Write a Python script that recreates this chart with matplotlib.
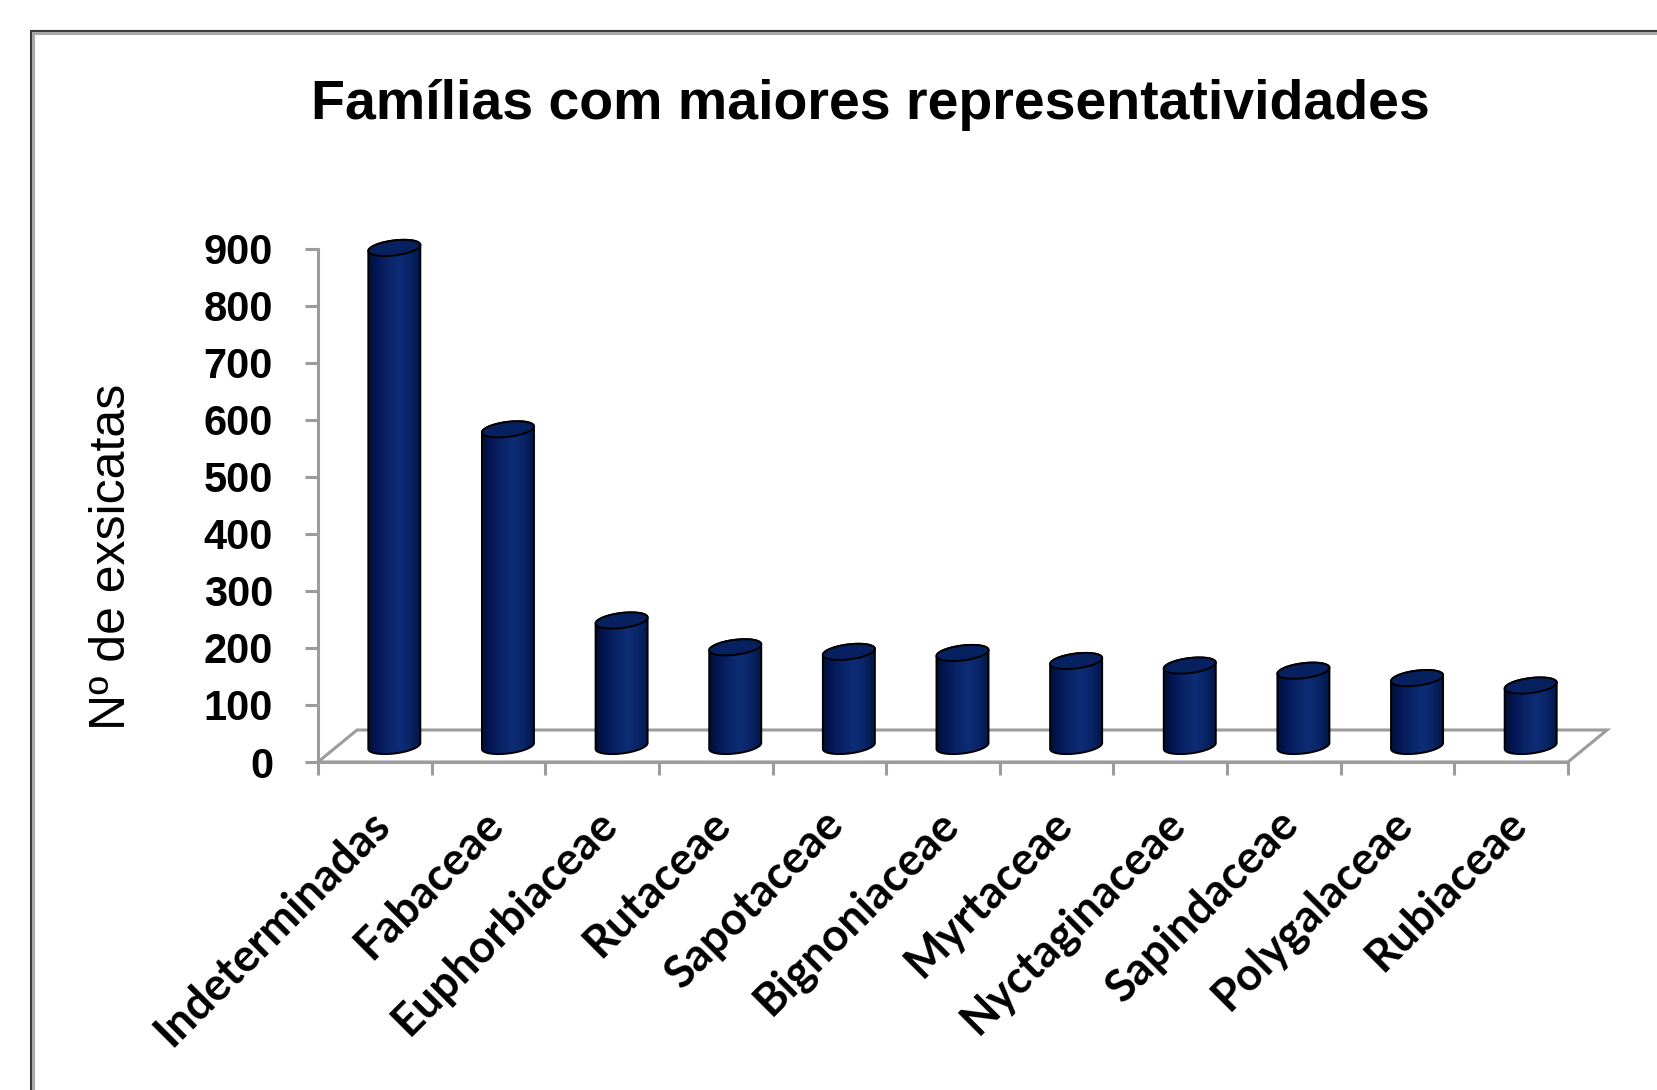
import numpy as np
import matplotlib
matplotlib.use("Agg")
import matplotlib.pyplot as plt
from matplotlib.patches import Polygon, Rectangle
from matplotlib.colors import LinearSegmentedColormap

# ── data ─────────────────────────────────────────────────────────────────────
familias = ["Indeterminadas", "Fabaceae", "Euphorbiaceae", "Rutaceae",
            "Sapotaceae", "Bignoniaceae", "Myrtaceae", "Nyctaginaceae",
            "Sapindaceae", "Polygalaceae", "Rubiaceae"]
exsicatas = [873, 555, 220, 173, 165, 163, 149, 141, 132, 119, 106]
yticks = [0, 100, 200, 300, 400, 500, 600, 700, 800, 900]

TITLE = "Famílias com maiores representatividades"
YLABEL = "Nº de exsicatas"

# ── layout (pixels of the 1657x1090 output) ──────────────────────────────────
W, H = 1657, 1090
X0, X1 = 318, 1568          # front floor edge, left / right
Y0, Y900 = 762, 248.5       # pixel rows of value 0 and 900
PX_CAT = (X1 - X0) / len(familias)
PX_VAL = (Y0 - Y900) / 900

DX = 39 / PX_CAT            # 3-D depth offset, category units
DY = 32 / PX_VAL            # 3-D depth offset, value units
YMAX = 1000
XMAX = len(familias) - 0.5 + DX

GRAY = "#9c9c9c"
NAVY_EDGE = "black"
body_cmap = LinearSegmentedColormap.from_list(
    "cyl", ["#000f36", "#04195a", "#0a2568", "#0e2d76", "#0a2568", "#001848"])

fig = plt.figure(figsize=(W / 100, H / 100), dpi=100)
fig.patch.set_facecolor("white")

ax_w = (XMAX + 0.5) * PX_CAT
ax_h = YMAX * PX_VAL
ax = fig.add_axes([X0 / W, 1 - Y0 / H, ax_w / W, ax_h / H])
ax.set_xlim(-0.5, XMAX)
ax.set_ylim(0, YMAX)
ax.patch.set_visible(False)

for side in ["top", "right"]:
    ax.spines[side].set_visible(False)
ax.spines["left"].set_bounds(0, 900)
ax.spines["bottom"].set_bounds(-0.5, len(familias) - 0.5)
for side in ["left", "bottom"]:
    ax.spines[side].set_color(GRAY)
    ax.spines[side].set_linewidth(2.2)

# floor (back edge + side edges)
n = len(familias)
floor = Polygon([(-0.5, 0), (n - 0.5, 0), (n - 0.5 + DX, DY), (-0.5 + DX, DY)],
                closed=True, fill=False, edgecolor=GRAY, linewidth=2.2,
                clip_on=False, zorder=1)
ax.add_patch(floor)

# ── cylinders ────────────────────────────────────────────────────────────────
a = 52 / PX_CAT / 2                  # half width, category units
b = 15 / PX_VAL / 2                  # half height of the end ellipses
k = (6 / PX_VAL) / (2 * a)           # tilt of the ellipses
t_low = np.linspace(np.pi, 2 * np.pi, 60)
t_up = np.linspace(0, np.pi, 60)
t_all = np.linspace(0, 2 * np.pi, 120)

for i, v in enumerate(exsicatas):
    cx = i + DX / 2
    base = DY / 2
    top = v + DY / 2

    bx = cx + a * np.cos(t_low)
    by = base + b * np.sin(t_low) + k * a * np.cos(t_low)
    tx = cx + a * np.cos(t_up)
    ty = top + b * np.sin(t_up) + k * a * np.cos(t_up)
    body = Polygon(np.column_stack([np.r_[bx, tx], np.r_[by, ty]]),
                   closed=True, facecolor="none", edgecolor=NAVY_EDGE,
                   linewidth=1.4, zorder=4)
    ax.add_patch(body)

    grad = np.linspace(0, 1, 64).reshape(1, -1)
    im = ax.imshow(grad, cmap=body_cmap, aspect="auto", zorder=3,
                   extent=[cx - a, cx + a, base - b - k * a - 2, top + b + k * a + 2],
                   interpolation="bilinear")
    im.set_clip_path(body)

    ex = cx + a * np.cos(t_all)
    ey = top + b * np.sin(t_all) + k * a * np.cos(t_all)
    cap = Polygon(np.column_stack([ex, ey]), closed=True, facecolor="#072160",
                  edgecolor=NAVY_EDGE, linewidth=1.4, zorder=5)
    ax.add_patch(cap)

ax.set_xlim(-0.5, XMAX)
ax.set_ylim(0, YMAX)

# ── ticks & labels ───────────────────────────────────────────────────────────
ax.set_yticks(yticks)
ax.set_yticklabels([str(t) for t in yticks])
ax.tick_params(axis="y", direction="out", length=9.4, width=2.2, color=GRAY,
               pad=23, labelsize=30)
for lbl in ax.get_yticklabels():
    lbl.set_fontfamily("Liberation Sans")
    lbl.set_fontweight("bold")

# category labels sit slightly left of the cylinder centres
ax.set_xticks(np.arange(n) + DX / 2 - 0.1)
ax.set_xticklabels(familias, rotation=45, ha="right", va="center",
                   rotation_mode="anchor")
ax.set_xticks(np.arange(n + 1) - 0.5, minor=True)
ax.tick_params(axis="x", which="major", length=0, pad=40, labelsize=32.5)
ax.tick_params(axis="x", which="minor", direction="out", length=9.4,
               width=2.2, color=GRAY)
for lbl in ax.get_xticklabels():
    lbl.set_fontfamily(["Lato", "Liberation Sans"])
    lbl.set_fontweight("bold")

fig.text(112 / W, 1 - 557 / H, YLABEL, rotation=90, ha="center", va="center",
         fontsize=36, family="Liberation Sans")

fig.text(870 / W, 1 - 105 / H, TITLE, ha="center", va="center",
         fontsize=40, fontweight="bold", family="Liberation Sans")

# ── chart-area border (cropped at right and bottom) ──────────────────────────
fig.add_artist(Rectangle((30.5 / W, -0.5), 2, 1.5 - 30.5 / H,
                         transform=fig.transFigure, fill=False,
                         edgecolor="#3a3a3a", linewidth=1.5))
fig.add_artist(Rectangle((33.2 / W, -0.5), 2, 1.5 - 33.2 / H,
                         transform=fig.transFigure, fill=False,
                         edgecolor="#a8a8a8", linewidth=2.2))

fig.savefig("out.png", dpi=100, facecolor="white")
